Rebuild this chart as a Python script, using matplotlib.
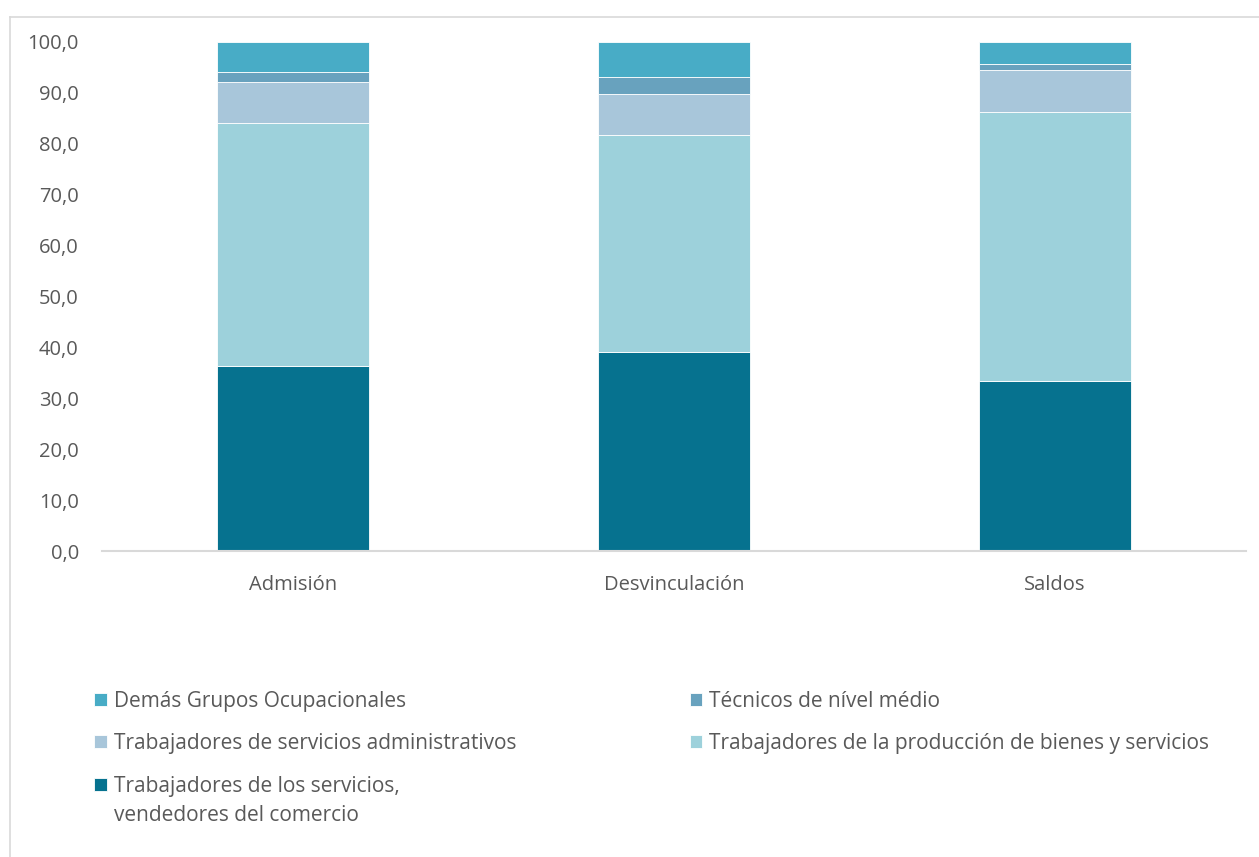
import matplotlib.pyplot as plt
from matplotlib.lines import Line2D
import numpy as np

plt.rcParams['font.family'] = ['Open Sans', 'DejaVu Sans']

categorias = ['Admisión', 'Desvinculación', 'Saldos']

# porcentajes por grupo ocupacional (de abajo hacia arriba)
servicios_comercio = [36.3, 39.1, 33.4]
produccion = [47.7, 42.6, 52.9]
administrativos = [8.1, 8.1, 8.2]
tecnicos = [2.1, 3.3, 1.1]
demas = [5.8, 6.9, 4.4]

series = [
    ('Trabajadores de los servicios,', servicios_comercio, '#06728F'),
    ('Trabajadores de la producción de bienes y servicios', produccion, '#9DD1DB'),
    ('Trabajadores de servicios administrativos', administrativos, '#A8C6DA'),
    ('Técnicos de nível médio', tecnicos, '#68A2BE'),
    ('Demás Grupos Ocupacionales', demas, '#48ACC6'),
]
segunda_linea = 'vendedores del comercio'

gris = '#595959'

fig = plt.figure(figsize=(12.59, 8.57), dpi=100)
ax = fig.add_axes([0.0814, 0.357, 0.9079, 0.594])

x = np.arange(len(categorias))
base = np.zeros(len(categorias))
barras = {}
for nombre, valores, color in series:
    b = ax.bar(x, valores, width=0.4, bottom=base, color=color,
               edgecolor='white', linewidth=0.6)
    barras[nombre] = b
    base = base + np.array(valores)

ax.set_xlim(-0.5, 2.5)
ax.set_ylim(0, 100)
ax.set_yticks(np.arange(0, 101, 10))
ax.set_yticklabels([f'{v:.1f}'.replace('.', ',') for v in range(0, 101, 10)])
ax.set_xticks(x)
ax.set_xticklabels(categorias)
ax.tick_params(axis='both', length=0, labelsize=14.5, colors=gris)
ax.tick_params(axis='y', pad=17)
ax.tick_params(axis='x', pad=17)
for lado in ['top', 'right', 'left']:
    ax.spines[lado].set_visible(False)
ax.spines['bottom'].set_color('#D9D9D9')
ax.spines['bottom'].set_linewidth(1.5)

# orden de la leyenda (relleno por columnas)
orden = ['Demás Grupos Ocupacionales',
         'Trabajadores de servicios administrativos',
         'Trabajadores de los servicios,',
         'Técnicos de nível médio',
         'Trabajadores de la producción de bienes y servicios']
leg = fig.legend([barras[n] for n in orden], orden, ncol=2,
                 loc='upper left', bbox_to_anchor=(0.075, 0.194),
                 frameon=False, fontsize=15, handlelength=0.6,
                 handleheight=0.6, handletextpad=0.35, columnspacing=8.3,
                 labelspacing=1.03, borderpad=0, borderaxespad=0)
for t in leg.get_texts():
    t.set_color(gris)

# segunda linea de la ultima entrada, alineada bajo la primera
fig.canvas.draw()
t_ult = leg.get_texts()[2]
bb = t_ult.get_window_extent().transformed(fig.transFigure.inverted())
fig.text(bb.x0, bb.y0 - 29 / 857, segunda_linea, fontsize=15, color=gris,
         ha='left', va='bottom')

# borde del area del grafico
fig.add_artist(Line2D([0.008, 0.008], [0, 0.98], transform=fig.transFigure,
                      color='#D9D9D9', linewidth=1.2))
fig.add_artist(Line2D([0.008, 1.0], [0.98, 0.98], transform=fig.transFigure,
                      color='#D9D9D9', linewidth=1.2))

fig.savefig('out.png', dpi=100)
